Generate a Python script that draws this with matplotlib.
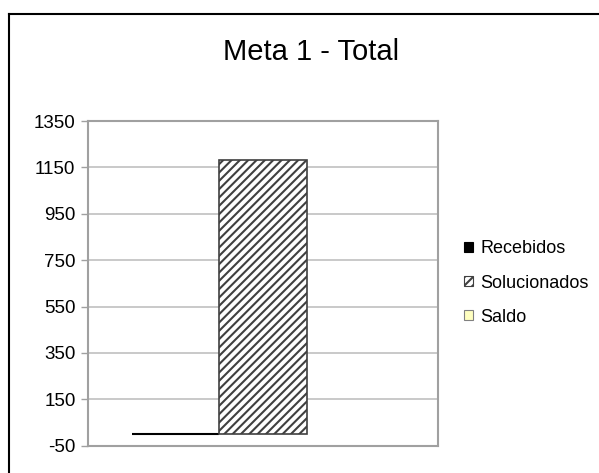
import matplotlib.pyplot as plt
from matplotlib.patches import Patch
from matplotlib.lines import Line2D

# data
series = ['Recebidos', 'Solucionados', 'Saldo']
values = [0, 1180, 0]
colors = ['#000000', '#ffffff', '#ffffc0']
hatches = [None, '////', None]
edges = ['#000000', '#404040', '#808080']
yticks = [-50, 150, 350, 550, 750, 950, 1150, 1350]

plt.rcParams['font.family'] = ['Liberation Sans', 'DejaVu Sans']
plt.rcParams['axes.unicode_minus'] = False
plt.rcParams['hatch.linewidth'] = 1.5

fig = plt.figure(figsize=(5.99, 4.73), dpi=100)
ax = fig.add_axes([88/599, 1 - 445.7/473, 349.7/599, 324.7/473])

bw = 0.25
offsets = [-bw, 0, bw]
for i in range(len(series)):
    lw = [1.5, 1.2, 0][i]
    ax.bar(offsets[i], values[i], width=bw, color=colors[i], hatch=hatches[i],
           edgecolor=edges[i], linewidth=lw, zorder=3)

ax.set_xlim(-0.5, 0.5)
ax.set_ylim(-50, 1350)
ax.set_yticks(yticks)
ax.set_xticks([])
ax.tick_params(axis='y', length=5, width=1, color='#a0a0a0', labelsize=13.5, pad=4)
ax.yaxis.grid(True, color='#c0c0c0', linewidth=1.2, zorder=0)
ax.set_axisbelow(True)
for s in ax.spines.values():
    s.set_color('#a0a0a0')
    s.set_linewidth(1.5)

fig.text(311.5/599, 1 - 52/473, 'Meta 1 - Total', ha='center', va='center', fontsize=21)

handles = [Patch(facecolor=colors[i], edgecolor=edges[i] if i else '#000000',
                 hatch=('////' if hatches[i] else None), linewidth=0.8) for i in range(3)]
fig.legend(handles, series, loc='center left', bbox_to_anchor=(464/599, 1 - 283/473),
           frameon=False, fontsize=13, handlelength=0.5, handleheight=0.5,
           handletextpad=0.4, labelspacing=0.95, borderpad=0, borderaxespad=0)

# outer chart border (left and top)
fig.add_artist(Line2D([9/599, 9/599], [0, 1 - 14/473], color='black', linewidth=1.5))
fig.add_artist(Line2D([9/599, 1], [1 - 14/473, 1 - 14/473], color='black', linewidth=1.5))

fig.savefig('out.png', dpi=100)
